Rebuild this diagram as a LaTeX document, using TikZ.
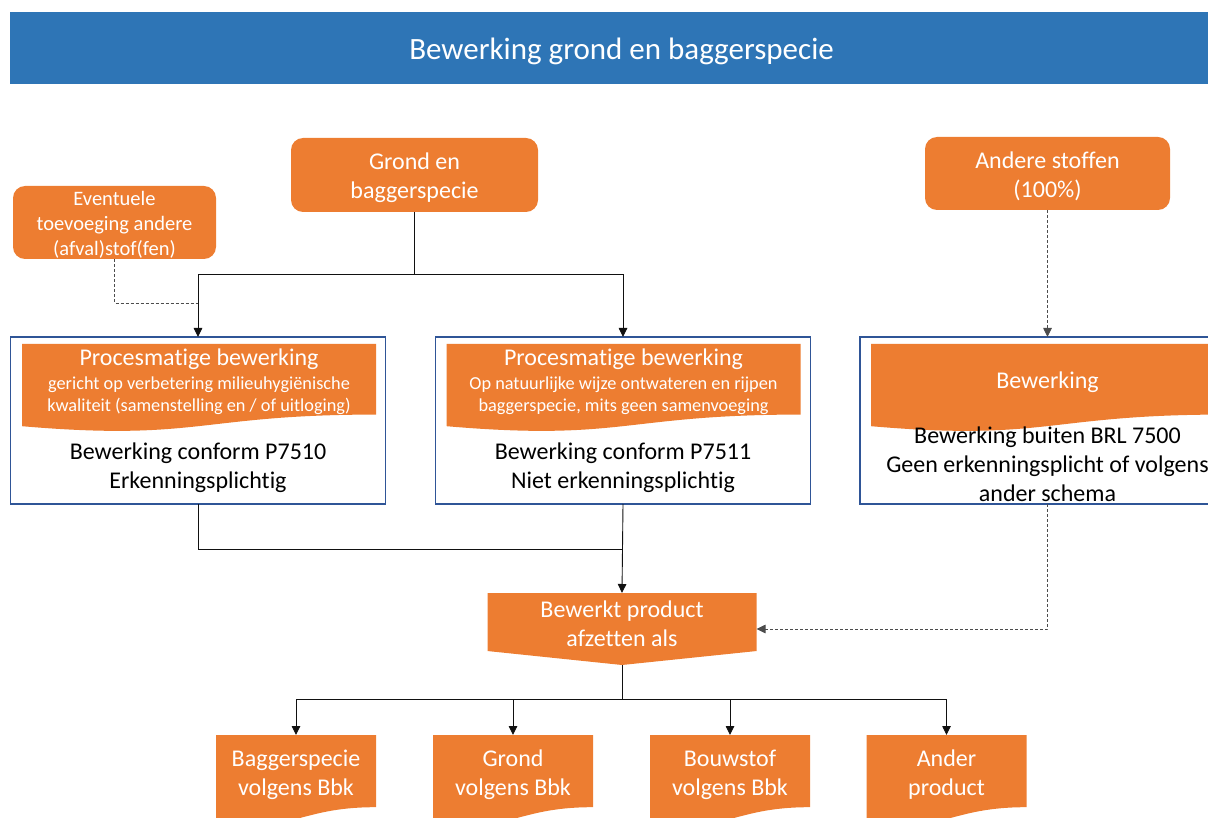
\documentclass[tikz,border=0pt]{standalone}
\usepackage{fontspec}
\setmainfont{Carlito}[Ligatures=NoCommon]
\usetikzlibrary{calc,arrows.meta}
\definecolor{orng}{HTML}{ED7D31}
\definecolor{hdrblue}{HTML}{2E75B6}
\definecolor{bord}{HTML}{2F5597}
\definecolor{lnk}{HTML}{111111}
\newcommand\docpath[1]{(#1.north west) -- (#1.north east) -- ($(#1.north east)!0.802!(#1.south east)$) .. controls ($(#1.north)!0.802!(#1.south)$) and ($(#1.north)!1.107!(#1.south)$) .. ($(#1.north west)!0.934!(#1.south west)$) -- cycle}
\begin{document}
\begin{tikzpicture}[x=1pt,y=-1pt,
  every node/.style={inner sep=0pt, outer sep=0pt},
  hdrbox/.style={fill=hdrblue},
  rbox/.style={fill=orng, rounded corners=12pt},
  outbox/.style={draw=bord, line width=1.5pt, fill=white},
  area/.style={draw=none},
  wtxt/.style={text=white, align=center, font=\fontsize{24}{29}\selectfont},
  wsmall/.style={text=white, align=center, font=\fontsize{18.3}{22.5}\selectfont},
  btxt/.style={text=black, align=center, font=\fontsize{24}{29}\selectfont},
  conn/.style={draw=lnk, line width=0.9pt},
  dconn/.style={draw=lnk!75, line width=0.9pt, dash pattern=on 3pt off 2pt},
  tip/.style={-{Triangle[length=9pt,width=8.5pt]}}
]
\useasboundingbox (0,0) rectangle (1208,818);
\clip (0,0) rectangle (1208,818);

% header
\node[hdrbox, minimum width=1223, minimum height=72] (hdr) at (621.5,48) {};
\node[text=white, font=\fontsize{31}{37}\selectfont] (title) at (621.5,51) {Bewerking grond en baggerspecie};

% top rounded boxes
\node[rbox, minimum width=247, minimum height=74] (grond) at (414.5,175) {};
\node[wtxt] (grondt) at (414.5,178) {Grond en\\baggerspecie};
\node[rbox, minimum width=203, minimum height=73] (event) at (114.5,222.5) {};
\node[wtxt, font=\fontsize{20.5}{25}\selectfont] (eventt) at (114.5,225) {Eventuele\\toevoeging andere\\(afval)stof(fen)};
\node[rbox, minimum width=245, minimum height=73] (andere) at (1047.5,173.5) {};
\node[wtxt] (anderet) at (1047.5,176.5) {Andere stoffen\\(100\%)};

% process boxes
\node[outbox, minimum width=375, minimum height=167] (box1) at (198,420.5) {};
\node[outbox, minimum width=375, minimum height=167] (box2) at (623,420.5) {};
\node[outbox, minimum width=375, minimum height=167] (box3) at (1047.5,420.5) {};

\node[area, minimum width=354, minimum height=88] (ban1) at (199,388) {};
\node[area, minimum width=354, minimum height=88] (ban2) at (623.5,388) {};
\node[area, minimum width=353, minimum height=88] (ban3) at (1047.5,388) {};
\fill[orng] \docpath{ban1};
\fill[orng] \docpath{ban2};
\fill[orng] \docpath{ban3};

\node[wtxt] (t1a) at (199,359) {Procesmatige bewerking};
\node[wsmall] (t1b) at (199,395.5) {gericht op verbetering milieuhygiënische\\kwaliteit (samenstelling en / of uitloging)};
\node[btxt] (t1c) at (198,467.5) {Bewerking conform P7510\\Erkenningsplichtig};

\node[wtxt] (t2a) at (623.5,359) {Procesmatige bewerking};
\node[wsmall] (t2b) at (623.5,395.5) {Op natuurlijke wijze ontwateren en rijpen\\baggerspecie, mits geen samenvoeging};
\node[btxt] (t2c) at (623,467.5) {Bewerking conform P7511\\Niet erkenningsplichtig};

\node[wtxt] (t3a) at (1047.5,382) {Bewerking};
\node[btxt] (t3c) at (1047.5,464) {Bewerking buiten BRL 7500\\Geen erkenningsplicht of volgens\\ander schema};

% product pentagon
\node[area, minimum width=269, minimum height=72] (prod) at (622,629) {};
\fill[orng] (prod.north west) -- (prod.north east) -- ($(prod.north east)!0.806!(prod.south east)$) -- (prod.south) -- ($(prod.north west)!0.806!(prod.south west)$) -- cycle;
\node[wtxt] (prodt) at (622,623.5) {Bewerkt product\\afzetten als};

% outputs
\node[area, minimum width=160, minimum height=90] (o1) at (296,780) {};
\node[area, minimum width=160, minimum height=90] (o2) at (513,780) {};
\node[area, minimum width=160, minimum height=90] (o3) at (730,780) {};
\node[area, minimum width=160, minimum height=90] (o4) at (946.5,780) {};
\fill[orng] \docpath{o1};
\fill[orng] \docpath{o2};
\fill[orng] \docpath{o3};
\fill[orng] \docpath{o4};
\node[wtxt] (o1t) at (296,774.5) {Baggerspecie\\volgens Bbk};
\node[wtxt] (o2t) at (513,774.5) {Grond\\volgens Bbk};
\node[wtxt] (o3t) at (730,774.5) {Bouwstof\\volgens Bbk};
\node[wtxt] (o4t) at (946.5,774.5) {Ander\\product};

% connectors
\coordinate (s1) at (414.5,274);
\coordinate (e1) at (198,303);
\coordinate (m1) at (623,549);
\coordinate (s2) at (622,699);
\draw[conn] (grond.south) -- (s1);
\draw[conn,tip] (s1) -| (box1.north);
\draw[conn,tip] (s1) -| (box2.north);
\draw[dconn] (event.south) |- (e1);
\draw[dconn,tip] (andere.south) -- (box3.north);
\draw[conn] (box1.south) |- (m1);
\draw[conn,tip] (box2.south) -- (prod.north);
\draw[dconn,tip] (box3.south) |- (prod.east);
\draw[conn] (prod.south) -- (s2);
\draw[conn,tip] (s2) -| (o1.north);
\draw[conn,tip] (s2) -| (o2.north);
\draw[conn,tip] (s2) -| (o3.north);
\draw[conn,tip] (s2) -| (o4.north);
\end{tikzpicture}
\end{document}
